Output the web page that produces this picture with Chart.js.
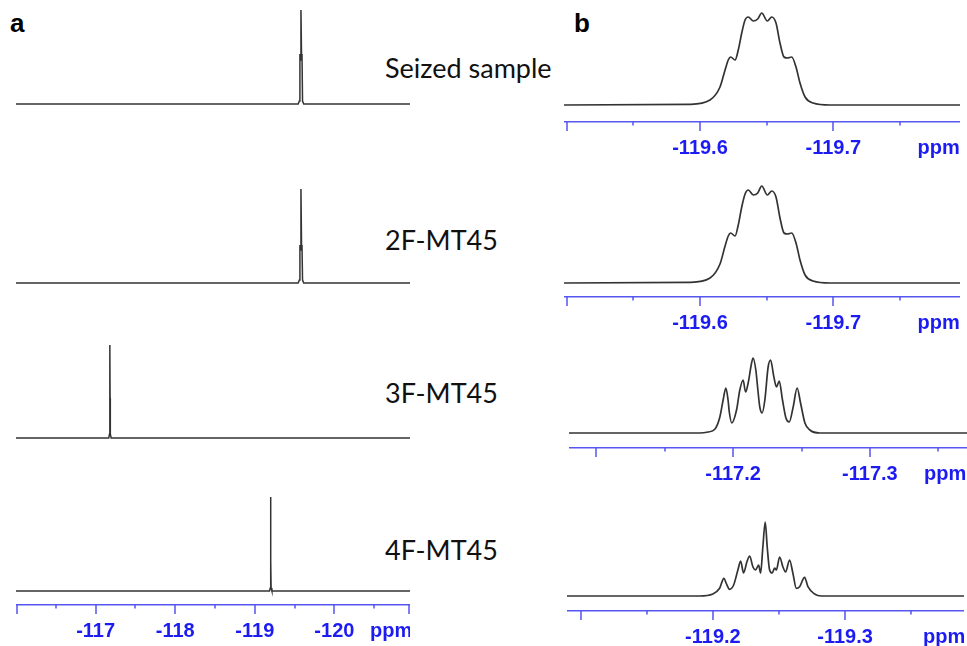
<!DOCTYPE html>
<html>
<head>
<meta charset="utf-8">
<script src="https://cdn.jsdelivr.net/npm/chart.js@4/dist/chart.umd.min.js"></script>
<style>
  html, body { margin: 0; padding: 0; background: #fff; overflow: hidden; }
  #page { position: relative; width: 967px; height: 646px; }
  canvas { position: absolute; }
  .panel { position: absolute; font-family: "Liberation Sans", Arial, sans-serif; font-weight: bold; font-size: 26px; line-height: 26px; color: #000; }
  .name { position: absolute; font-family: Lato, "Open Sans", sans-serif; font-size: 27px; line-height: 27px; color: #111; white-space: nowrap; }
</style>
</head>
<body>
<div id="page">
  <div class="panel" style="left:10px; top:10px;">a</div>
  <div class="panel" style="left:574px; top:10px;">b</div>
  <div class="name" style="left:385px; top:54px;">Seized sample</div>
  <div class="name" style="left:385px; top:226px;">2F-MT45</div>
  <div class="name" style="left:385px; top:379px;">3F-MT45</div>
  <div class="name" style="left:385px; top:536px;">4F-MT45</div>

  <canvas id="a1" width="394" height="115" style="left:16px; top:0px;"></canvas>
  <canvas id="a2" width="394" height="120" style="left:16px; top:170px;"></canvas>
  <canvas id="a3" width="394" height="115" style="left:16px; top:330px;"></canvas>
  <canvas id="a4" width="394" height="175" style="left:16px; top:470px;"></canvas>

  <canvas id="b1" width="396" height="162" style="left:564px; top:0px;"></canvas>
  <canvas id="b2" width="396" height="162" style="left:564px; top:175px;"></canvas>
  <canvas id="b3" width="398" height="148" style="left:569px; top:340px;"></canvas>
  <canvas id="b4" width="397" height="146" style="left:567px; top:505px;"></canvas>
</div>

<script>
// ---- panel a: full 19F spectra (ppm, intensity) ----
var seizedPpm = [-116, -119.545, -119.56, -119.567, -119.572, -119.58, -119.588, -119.593, -119.6, -119.615, -120.95];
var seizedInt = [0, 0, 3, 50, 44, 94, 44, 50, 3, 0, 0];
var mt2Ppm = [-116, -119.545, -119.56, -119.567, -119.572, -119.58, -119.588, -119.593, -119.6, -119.615, -120.95];
var mt2Int = [0, 0, 3, 38, 33, 94, 33, 38, 3, 0, 0];
var mt3Ppm = [-116, -117.165, -117.175, -117.178, -117.18, -117.182, -117.185, -117.195, -120.95];
var mt3Int = [0, 0, 4, 40, 93, 40, 4, 0, 0];
var mt4Ppm = [-116, -119.185, -119.195, -119.198, -119.2, -119.202, -119.205, -119.215, -120.95];
var mt4Int = [0, 0, 3, 30, 94, 30, 3, 0, 0];

// ---- panel b: expanded multiplets ----
var zoomSeizedPpm = [-119.498, -119.5925, -119.6075, -119.615, -119.6188, -119.6212, -119.623, -119.6263,
  -119.6287, -119.6313, -119.6338, -119.6362, -119.64, -119.6433, -119.6463, -119.6505, -119.6538,
  -119.657, -119.66, -119.663, -119.6655, -119.6688, -119.672, -119.675, -119.6788, -119.6848,
  -119.6975, -119.795];
var zoomSeizedInt = [0, 0.7, 5, 18, 35, 45, 48, 45, 55, 72, 85, 88, 84, 86, 92, 84, 88, 82, 62, 48, 47, 48,
  38, 22, 8, 2, 0, 0];
var zoom2Ppm = zoomSeizedPpm.slice();
var zoom2Int = [0, 0.7, 5, 19, 37, 47, 50, 47, 58, 76, 89, 93, 88, 90, 97, 88, 92, 86, 65, 50, 49, 50,
  40, 23, 8, 2, 0, 0];
var zoom3Ppm = [-117.08, -117.1756, -117.1817, -117.1866, -117.1903, -117.1927, -117.1947, -117.1963,
  -117.1972, -117.199, -117.2025, -117.2049, -117.2073, -117.2091, -117.211, -117.2135, -117.2146,
  -117.2166, -117.2181, -117.2195, -117.2212, -117.2232, -117.2256, -117.2274, -117.2298, -117.2317,
  -117.2337, -117.2361, -117.2386, -117.241, -117.2439, -117.2468, -117.2493, -117.2525, -117.2561,
  -117.2634, -117.371];
var zoom3Int = [0, 0, 1, 3.7, 16, 33, 45, 33, 21, 10, 23, 43, 53, 41, 50, 70, 75, 63, 43, 26, 20, 33, 66,
  73, 56, 46, 52, 33, 15, 11, 26, 45, 30, 10, 3, 0, 0];
var zoom4Ppm = [-119.0896, -119.1899, -119.2, -119.2051, -119.2083, -119.2101, -119.2126, -119.2157,
  -119.2189, -119.221, -119.2232, -119.2257, -119.2278, -119.2303, -119.2323, -119.2346, -119.2361,
  -119.2378, -119.2396, -119.2411, -119.2429, -119.2449, -119.2467, -119.248, -119.2505, -119.253,
  -119.255, -119.258, -119.2605, -119.2631, -119.2656, -119.2694, -119.2719, -119.2769, -119.2822,
  -119.39];
var zoom4Int = [0, 0, 2, 7.7, 17.7, 12.7, 6.7, 11, 26, 35, 23, 34, 40, 29, 26, 31, 23, 49, 74, 49, 26, 23,
  28, 26, 39, 29, 24, 36, 23, 7.7, 9.3, 18.7, 9.3, 2, 0, 0];

// ---- axis ticks ----
var majorA = [-116, -117, -118, -119, -120, -120.95];
var minorA = [-116.5, -117.5, -118.5, -119.5, -120.5];
var labelsA = [-117, -118, -119, -120];
var majorB12 = [-119.5, -119.6, -119.7];
var minorB12 = [-119.55, -119.65, -119.75];
var labelsB12 = [-119.6, -119.7];
var majorB3 = [-117.1, -117.2, -117.3];
var minorB3 = [-117.15, -117.25, -117.35];
var labelsB3 = [-117.2, -117.3];
var majorB4 = [-119.1, -119.2, -119.3];
var minorB4 = [-119.15, -119.25, -119.35];
var labelsB4 = [-119.2, -119.3];

var AXIS_BLUE = '#5656f0';
var LABEL_BLUE = '#1c1cf2';
var TRACE = '#333333';

// Draws the hanging tick marks of an NMR ppm axis
var nmrTicks = {
  id: 'nmrTicks',
  afterDraw: function(chart, args, opts) {
    if (!opts || !opts.major) return;
    var scale = chart.scales.x;
    var ctx = chart.ctx;
    var top = scale.top;
    ctx.save();
    ctx.strokeStyle = AXIS_BLUE;
    ctx.lineWidth = 1.5;
    ctx.beginPath();
    opts.major.forEach(function(v) {
      var px = Math.round(scale.getPixelForValue(v));
      if (px <= scale.left) px = scale.left + 1;
      if (px >= scale.right) px = scale.right - 1;
      ctx.moveTo(px, top);
      ctx.lineTo(px, top + 9);
    });
    opts.minor.forEach(function(v) {
      var px = Math.round(scale.getPixelForValue(v));
      ctx.moveTo(px, top);
      ctx.lineTo(px, top + 3.5);
    });
    ctx.stroke();
    ctx.restore();
  }
};

function toPoints(ppm, intensity) {
  return ppm.map(function(p, i) { return { x: p, y: intensity[i] }; });
}

function makeSpectrum(id, ppm, intensity, cfg) {
  var xScale = {
    type: 'linear',
    reverse: true,
    min: cfg.xmin,
    max: cfg.xmax,
    display: !!cfg.axis
  };
  if (cfg.axis) {
    var ax = cfg.axis;
    xScale.border = { display: true, color: AXIS_BLUE, width: 1.5 };
    xScale.grid = { display: true, drawOnChartArea: false, drawTicks: false };
    xScale.ticks = {
      autoSkip: false,
      maxRotation: 0,
      padding: 14,
      color: LABEL_BLUE,
      font: { family: '"Liberation Sans", Arial, sans-serif', size: 20, weight: 'bold' },
      callback: function(value) {
        if (Math.abs(value - ax.ppmAt) < 1e-6) return 'ppm';
        return String(value);
      }
    };
    xScale.afterBuildTicks = function(scale) {
      scale.ticks = ax.labels.map(function(v) { return { value: v }; }).concat([{ value: ax.ppmAt }]);
    };
    xScale.afterFit = function(scale) {
      scale.height = 40;
      scale.paddingLeft = 0;
      scale.paddingRight = 0;
    };
  }

  return new Chart(document.getElementById(id), {
    type: 'line',
    data: {
      datasets: [{
        data: toPoints(ppm, intensity),
        borderColor: TRACE,
        borderWidth: cfg.lineWidth || 1.5,
        pointRadius: 0,
        fill: false,
        tension: 0,
        cubicInterpolationMode: cfg.smooth ? 'monotone' : 'default'
      }]
    },
    options: {
      responsive: false,
      animation: false,
      events: [],
      layout: { padding: 0 },
      plugins: {
        legend: { display: false },
        tooltip: { enabled: false },
        nmrTicks: cfg.axis ? { major: cfg.axis.major, minor: cfg.axis.minor } : {}
      },
      scales: {
        x: xScale,
        y: { display: false, min: cfg.ymin, max: cfg.ymax }
      }
    },
    plugins: [nmrTicks]
  });
}

// panel a
makeSpectrum('a1', seizedPpm, seizedInt, { xmin: -120.95, xmax: -116, ymin: -11, ymax: 104 });
makeSpectrum('a2', mt2Ppm, mt2Int, { xmin: -120.95, xmax: -116, ymin: -7, ymax: 113 });
makeSpectrum('a3', mt3Ppm, mt3Int, { xmin: -120.95, xmax: -116, ymin: -7, ymax: 108 });
makeSpectrum('a4', mt4Ppm, mt4Int, {
  xmin: -120.95, xmax: -116, ymin: -14, ymax: 121,
  axis: { major: majorA, minor: minorA, labels: labelsA, ppmAt: -120.714 }
});

// panel b
makeSpectrum('b1', zoomSeizedPpm, zoomSeizedInt, {
  xmin: -119.795, xmax: -119.498, ymin: -17, ymax: 105, smooth: true, lineWidth: 1.7,
  axis: { major: majorB12, minor: minorB12, labels: labelsB12, ppmAt: -119.779 }
});
makeSpectrum('b2', zoom2Ppm, zoom2Int, {
  xmin: -119.795, xmax: -119.498, ymin: -14, ymax: 108, smooth: true, lineWidth: 1.7,
  axis: { major: majorB12, minor: minorB12, labels: labelsB12, ppmAt: -119.779 }
});
makeSpectrum('b3', zoom3Ppm, zoom3Int, {
  xmin: -117.371, xmax: -117.08, ymin: -15, ymax: 93, smooth: true, lineWidth: 1.7,
  axis: { major: majorB3, minor: minorB3, labels: labelsB3, ppmAt: -117.355 }
});
makeSpectrum('b4', zoom4Ppm, zoom4Int, {
  xmin: -119.39, xmax: -119.0896, ymin: -15, ymax: 91, smooth: true, lineWidth: 1.7,
  axis: { major: majorB4, minor: minorB4, labels: labelsB4, ppmAt: -119.375 }
});
</script>
</body>
</html>
